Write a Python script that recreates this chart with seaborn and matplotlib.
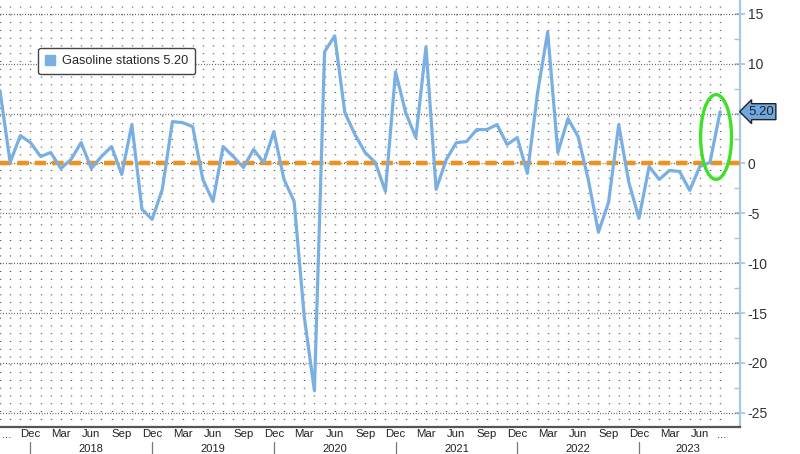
import pandas as pd
import matplotlib
matplotlib.use('Agg')
import matplotlib.pyplot as plt
import matplotlib.transforms as mtransforms
from matplotlib.patches import Patch, Ellipse
import seaborn as sns

# monthly readings, Sep 2017 .. Aug 2023 (first one sits just off the left edge)
months = pd.period_range('2017-09', '2023-08', freq='M')
gasoline = [7.3, 0.1, 2.8, 2.1, 0.7, 1.1, -0.5, 0.4, 2.1, -0.5, 0.7, 1.7,
            -1.1, 3.9, -4.6, -5.6, -2.6, 4.2, 4.1, 3.7, -1.6, -3.8, 1.7, 0.7,
            -0.4, 1.4, 0.1, 3.2, -1.6, -3.8, -15.4, -22.8, 11.2, 12.8, 5.1, 2.9,
            1.1, 0.1, -2.8, 9.2, 5.1, 2.6, 11.7, -2.6, 0.4, 2.1, 2.2, 3.4,
            3.4, 3.9, 1.9, 2.6, -1.0, 7.1, 13.2, 1.1, 4.5, 2.7, -1.6, -6.9,
            -3.9, 3.9, -1.9, -5.5, -0.3, -1.6, -0.7, -0.8, -2.7, -0.3, 0.1, 5.2]
year_labels = ['2018', '2019', '2020', '2021', '2022', '2023']
y_ticks = [-25, -20, -15, -10, -5, 0, 5, 10, 15]
last_label = '5.20'

df = pd.DataFrame({'month': months, 'value': gasoline})
df['pos'] = range(-1, len(df) - 1)

sns.set_style('white')
plt.rcParams['font.family'] = ['Liberation Sans', 'DejaVu Sans']

fig = plt.figure(figsize=(8, 4.54), dpi=100)
ax = fig.add_axes([0.0, 0.0595, 0.925, 0.9405])

line_blue = '#79afe3'
sns.lineplot(data=df, x='pos', y='value', color=line_blue, lw=2.3, ax=ax, zorder=4)
ax.axhline(0, color='#f0901e', lw=3.2, dashes=(2.6, 1.3), zorder=3)

ax.set_xlim(-0.59, 71.96)
ax.set_ylim(-26.43, 16.4)

# month ticks
keep = [(p, m) for p, m in zip(df['pos'], df['month']) if m.month in (12, 3, 6, 9) and p >= 2]
ax.set_xticks([p for p, m in keep])
ax.set_xticklabels([m.strftime('%b') for p, m in keep], fontsize=8.2, color='#222')
ax.set_xticks(list(df['pos']) + [71], minor=True)
ax.tick_params(axis='x', which='both', direction='inout', length=5, width=0.8,
               color='#555', pad=-0.8)

# right axis (the 5 label sits under the value tag)
ax.yaxis.tick_right()
ax.set_yticks(y_ticks)
ax.set_yticklabels(['' if v == 5 else str(v) for v in y_ticks])
ax.set_yticks([v + 2.5 for v in y_ticks[:-1]], minor=True)
ax.tick_params(axis='y', which='major', direction='inout', length=7, width=1.2,
               color='#9fc3e6', labelsize=10, labelcolor='#333', pad=2)
ax.tick_params(axis='y', which='minor', direction='in', length=4, width=1,
               color='#9fc3e6')

# grid
ax.grid(False)
for p in list(df['pos']):
    ax.axvline(p, color='#333', lw=1.0, dashes=(0.6, 5.0), zorder=1)
for v in y_ticks:
    ax.axhline(v, color='#333', lw=0.9, dashes=(0.6, 1.6), zorder=1)

for side in ['top', 'left']:
    ax.spines[side].set_visible(False)
ax.spines['right'].set_color('#a8c8e8')
ax.spines['right'].set_linewidth(1.6)
ax.spines['bottom'].set_color('#555')
ax.spines['bottom'].set_linewidth(1.6)
ax.set_xlabel('')
ax.set_ylabel('')

# year labels and separators
trans = mtransforms.blended_transform_factory(ax.transData, ax.transAxes)
for k, yr in enumerate(year_labels):
    sep = 2 + 12 * k
    ax.plot([sep, sep], [-0.034, -0.065], transform=trans, color='#777', lw=0.9,
            clip_on=False)
    centre = sep + 6 if k < len(year_labels) - 1 else 66.8
    ax.text(centre, -0.0625, yr, transform=trans, ha='center', va='bottom',
            fontsize=8, color='#222')
ax.text(-0.3, -0.019, '...', transform=trans, ha='center', va='center', fontsize=8.2, color='#222')
ax.text(70.2, -0.019, '...', transform=trans, ha='center', va='center', fontsize=8.2, color='#222')

# legend
handle = Patch(facecolor=line_blue, edgecolor=line_blue, label='Gasoline stations ' + last_label)
leg = ax.legend(handles=[handle], loc='upper left', bbox_to_anchor=(0.043, 0.903),
                fontsize=9.2, frameon=True, fancybox=True, handlelength=0.8,
                handleheight=0.8, handletextpad=0.5, borderpad=0.55, framealpha=1)
leg.get_frame().set_edgecolor('#444')
leg.get_frame().set_linewidth(1.0)

# last value tag
trans_r = mtransforms.blended_transform_factory(ax.transAxes, ax.transData)
ax.text(1.011, gasoline[-1], last_label, transform=trans_r, ha='left', va='center',
        fontsize=9.5, color='#222',
        bbox=dict(boxstyle='larrow,pad=0.15', fc='#6fa8e0', ec='#222', lw=1.0),
        clip_on=False)

# highlight ring
ax.add_patch(Ellipse((69.6, 2.66), 3.05, 8.5, fill=False, ec='#3ee02a', lw=2.4, zorder=5))

fig.savefig('out.png', dpi=100)
